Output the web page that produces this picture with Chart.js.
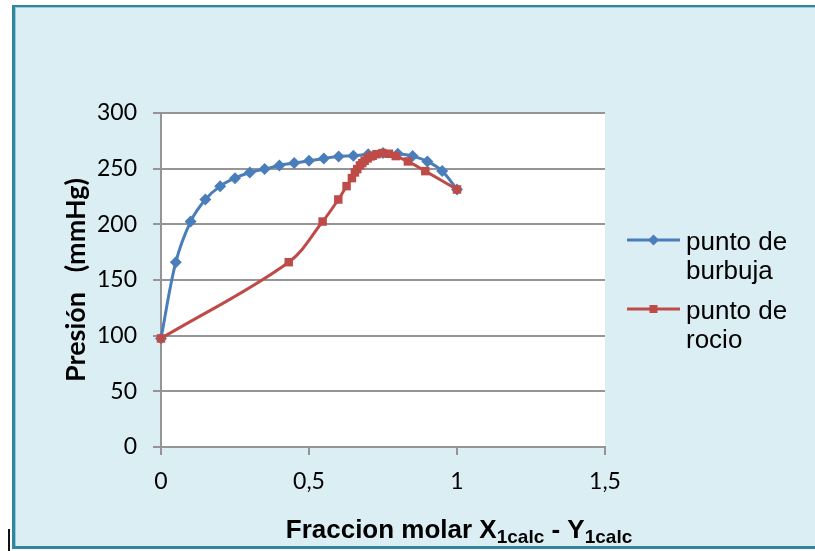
<!DOCTYPE html>
<html>
<head>
<meta charset="utf-8">
<title>Presión vs fracción molar</title>
<script src="https://cdn.jsdelivr.net/npm/chart.js"></script>
<style>
  html, body { margin: 0; padding: 0; background: #fff; }
  #wrap { position: relative; width: 815px; height: 551px; overflow: hidden; }
  #frame { position: absolute; left: 12px; top: 5px; width: 820px; height: 544px; box-sizing: border-box;
           background: #dbeef4; border: 3px solid #31859c; border-top-width: 2px; box-shadow: inset 1px 1px 0 #93cddd; }
  #caret { position: absolute; left: 8px; top: 529px; width: 2px; height: 22px; background: #111; }
  canvas { position: absolute; left: 0; top: 0; }
</style>
</head>
<body>
<div id="wrap">
  <div id="frame"></div>
  <div id="caret"></div>
  <canvas id="chart" width="815" height="551"></canvas>
</div>
<script>
// punto de burbuja: liquid fraction vs pressure
const xLiquid = [0, 0.05, 0.1, 0.15, 0.2, 0.25, 0.3, 0.35, 0.4, 0.45, 0.5, 0.55, 0.6, 0.65, 0.7, 0.75, 0.8, 0.85, 0.9, 0.95, 1];
const pBubble = [97.5, 166, 202.5, 222.3, 234.3, 241.5, 246.6, 249.6, 252.9, 255, 257.1, 259.2, 261, 261.6, 263, 264, 263.4, 261.3, 256.5, 247.8, 231.3];

// punto de rocio: vapour fraction vs pressure
const yVapor = [0, 0.4315, 0.546, 0.599, 0.627, 0.645, 0.655, 0.663, 0.672, 0.68, 0.688, 0.698, 0.708, 0.715, 0.728, 0.748, 0.77, 0.793, 0.834, 0.893, 1];
const pDew = [97.5, 166, 202.5, 222.3, 234.3, 241.5, 246.6, 249.6, 252.9, 255, 257.1, 259.2, 261, 261.6, 263, 264, 263.4, 261.3, 256.5, 247.8, 231.3];

const seriesNames = [['punto de', 'burbuja'], ['punto de', 'rocio']];
const xTicks = [0, 0.5, 1, 1.5];
const yTicks = [0, 50, 100, 150, 200, 250, 300];

const BLUE = '#4a7ebb';
const RED = '#be4b48';
const GRID = '#959595';

// white plot area
const plotBg = {
    id: 'plotBg',
    beforeDraw(chart) {
        const a = chart.chartArea;
        const ctx = chart.ctx;
        ctx.save();
        ctx.fillStyle = '#ffffff';
        ctx.fillRect(a.left, a.top, a.right - a.left, a.bottom - a.top);
        ctx.restore();
    }
};

// x title with subscripts
const xTitle = {
    id: 'xTitle',
    afterDraw(chart) {
        const ctx = chart.ctx;
        const parts = [
            { t: 'Fraccion molar X', sub: false },
            { t: '1calc', sub: true },
            { t: ' - Y', sub: false },
            { t: '1calc', sub: true }
        ];
        const big = 'bold 26px "Liberation Sans", Arial, sans-serif';
        const small = 'bold 19px "Liberation Sans", Arial, sans-serif';
        ctx.save();
        let total = 0;
        parts.forEach(p => { ctx.font = p.sub ? small : big; p.w = ctx.measureText(p.t).width; total += p.w; });
        let x = 459 - total / 2;
        ctx.fillStyle = '#000';
        ctx.textBaseline = 'alphabetic';
        ctx.textAlign = 'left';
        parts.forEach(p => {
            ctx.font = p.sub ? small : big;
            ctx.fillText(p.t, x, p.sub ? 542.5 : 538);
            x += p.w;
        });
        ctx.restore();
    }
};

// legend: line with marker, two-line label
const sideLegend = {
    id: 'sideLegend',
    afterDraw(chart) {
        const ctx = chart.ctx;
        const rows = [240, 309];
        ctx.save();
        chart.data.datasets.forEach((ds, i) => {
            const y = rows[i];
            ctx.strokeStyle = ds.borderColor;
            ctx.lineWidth = 3;
            ctx.beginPath();
            ctx.moveTo(627, y);
            ctx.lineTo(680, y);
            ctx.stroke();
            ctx.fillStyle = ds.pointBackgroundColor;
            const cx = 653.5;
            ctx.beginPath();
            if (ds.pointStyle === 'rectRot') {
                ctx.moveTo(cx - 5.5, y); ctx.lineTo(cx, y - 5.5); ctx.lineTo(cx + 5.5, y); ctx.lineTo(cx, y + 5.5);
            } else {
                ctx.rect(cx - 4, y - 4, 8, 8);
            }
            ctx.closePath();
            ctx.fill();
            ctx.fillStyle = '#000';
            ctx.font = '26px "Liberation Sans", Arial, sans-serif';
            ctx.textAlign = 'left';
            ctx.textBaseline = 'alphabetic';
            seriesNames[i].forEach((line, k) => ctx.fillText(line, 686, y + 9.5 + k * 29));
        });
        ctx.restore();
    }
};

new Chart(document.getElementById('chart'), {
    type: 'scatter',
    data: {
        datasets: [
            {
                label: seriesNames[0].join(' '),
                data: xLiquid.map((x, i) => ({ x: x, y: pBubble[i] })),
                showLine: true,
                borderColor: BLUE,
                backgroundColor: BLUE,
                pointBackgroundColor: BLUE,
                pointBorderColor: BLUE,
                borderWidth: 3,
                pointStyle: 'rectRot',
                pointRadius: 6,
                pointBorderWidth: 0,
                tension: 0.35,
                clip: false,
                order: 1
            },
            {
                label: seriesNames[1].join(' '),
                data: yVapor.map((x, i) => ({ x: x, y: pDew[i] })),
                showLine: true,
                borderColor: RED,
                backgroundColor: RED,
                pointBackgroundColor: RED,
                pointBorderColor: RED,
                borderWidth: 3,
                pointStyle: 'rect',
                pointRadius: 6,
                pointBorderWidth: 0,
                tension: 0.35,
                clip: false,
                order: 0
            }
        ]
    },
    options: {
        responsive: false,
        animation: false,
        events: [],
        layout: { padding: { left: 12, top: 113, right: 210, bottom: 0 } },
        plugins: {
            legend: { display: false },
            tooltip: { enabled: false }
        },
        scales: {
            x: {
                type: 'linear',
                min: 0,
                max: 1.5,
                afterBuildTicks: s => { s.ticks = xTicks.map(v => ({ value: v })); },
                afterFit: s => { s.height = 104; },
                grid: { drawOnChartArea: false, drawTicks: true, tickLength: 8, color: GRID, lineWidth: 2 },
                border: { display: true, color: GRID, width: 2 },
                ticks: {
                    padding: 13,
                    color: '#000',
                    font: { family: 'Lato', size: 23 },
                    callback: v => String(v).replace('.', ',')
                },
                title: { display: false }
            },
            y: {
                type: 'linear',
                min: 0,
                max: 300,
                afterBuildTicks: s => { s.ticks = yTicks.map(v => ({ value: v })); },
                afterFit: s => { s.width = 149; },
                grid: { drawOnChartArea: true, drawTicks: true, tickLength: 8, color: GRID, lineWidth: 2 },
                border: { display: true, color: GRID, width: 2 },
                ticks: {
                    padding: 16,
                    color: '#000',
                    font: { family: 'Lato', size: 23 }
                },
                title: {
                    display: true,
                    text: 'Presión   (mmHg)',
                    color: '#000',
                    font: { family: 'Lato', size: 27, weight: 'bold' },
                    padding: { top: 48, bottom: 0 }
                }
            }
        }
    },
    plugins: [plotBg, xTitle, sideLegend]
});
</script>
</body>
</html>
